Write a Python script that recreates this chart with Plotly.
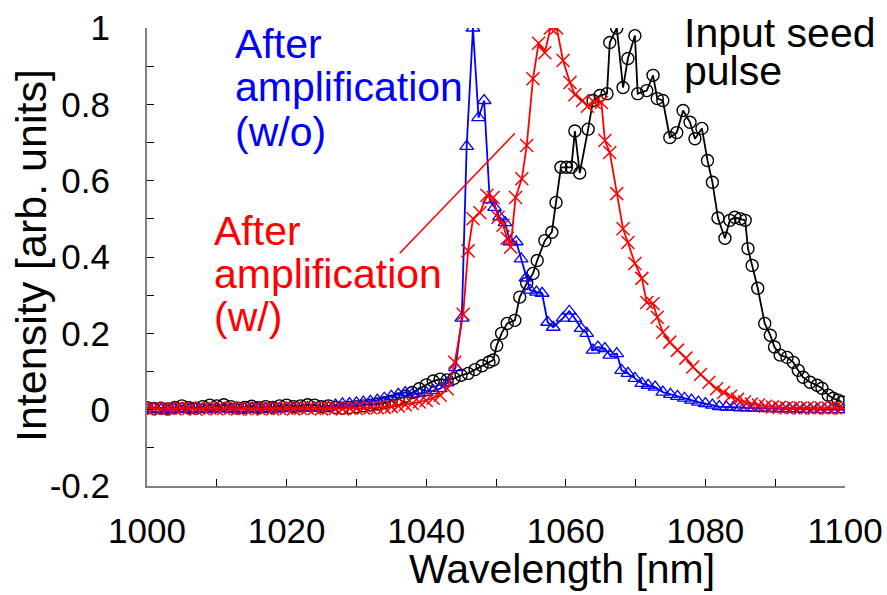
import plotly.graph_objects as go

# ---------------- data ----------------
seed_wl = [1000, 1001, 1002, 1003, 1004, 1005, 1006, 1007, 1008, 1009, 1010, 1011, 1012, 1013, 1014,
           1015, 1016, 1017, 1018, 1019, 1020, 1021, 1022, 1023, 1024, 1025, 1026, 1027, 1028, 1029,
           1030, 1031, 1032, 1033, 1034, 1035, 1036, 1037, 1038, 1039, 1040, 1041, 1042, 1043, 1044,
           1045, 1046, 1047, 1048, 1049, 1049.6, 1050.1, 1050.8, 1051.6, 1052.7, 1053.4, 1054.4,
           1055.3, 1055.9, 1057.0, 1058.0, 1058.6, 1059.3, 1060.1, 1060.8, 1061.3, 1062.0, 1063.2,
           1063.9, 1064.9, 1065.9, 1066.3, 1067.3, 1068.2, 1068.9, 1069.9, 1070.3, 1071.6, 1072.5,
           1073.1, 1073.9, 1074.9, 1075.9, 1076.8, 1077.8, 1078.5, 1079.5, 1080.3, 1081.0, 1081.8,
           1082.8, 1083.5, 1084.2, 1085.0, 1085.7, 1086.1, 1086.7, 1087.5, 1088.5, 1089.3, 1089.9,
           1090.7, 1091.7, 1092.6, 1093.3, 1094.0, 1095.0, 1096.0, 1096.7, 1097.6, 1098.3, 1099.0,
           1099.6]
seed_int = [0.005, 0.003, 0.004, 0.002, 0.006, 0.010, 0.005, 0.004, 0.008, 0.012, 0.010, 0.013, 0.008,
            0.004, 0.006, 0.009, 0.005, 0.008, 0.006, 0.010, 0.012, 0.008, 0.010, 0.013, 0.012, 0.008,
            0.010, 0.006, 0.004, 0.006, 0.008, 0.010, 0.012, 0.015, 0.018, 0.022, 0.028, 0.035, 0.045,
            0.055, 0.065, 0.075, 0.080, 0.078, 0.082, 0.090, 0.095, 0.105, 0.115, 0.125, 0.130, 0.168,
            0.200, 0.226, 0.234, 0.295, 0.331, 0.357, 0.391, 0.443, 0.465, 0.543, 0.635, 0.635, 0.635,
            0.730, 0.620, 0.735, 0.810, 0.823, 0.828, 0.962, 1.000, 0.844, 0.920, 0.980, 0.828, 0.836,
            0.876, 0.815, 0.810, 0.713, 0.726, 0.784, 0.753, 0.710, 0.737, 0.653, 0.596, 0.502, 0.449,
            0.496, 0.504, 0.500, 0.496, 0.422, 0.378, 0.318, 0.226, 0.195, 0.164, 0.143, 0.137, 0.124,
            0.103, 0.085, 0.072, 0.064, 0.056, 0.038, 0.030, 0.025, 0.020]

wo_wl = [1000, 1001, 1002, 1003, 1004, 1005, 1006, 1007, 1008, 1009, 1010, 1011, 1012, 1013, 1014,
         1015, 1016, 1017, 1018, 1019, 1020, 1021, 1022, 1023, 1024, 1025, 1026, 1027, 1028, 1029,
         1030, 1031, 1032, 1033, 1034, 1035, 1036, 1037, 1038, 1039, 1040, 1041, 1042, 1043, 1044.2,
         1045.1, 1045.8, 1046.7, 1047.5, 1048.3, 1049.1, 1049.8, 1050.5, 1051.3, 1052.0, 1052.9,
         1053.6, 1054.3, 1054.9, 1055.8, 1056.6, 1057.4, 1058.2, 1059.6, 1060.5, 1061.3, 1062.2,
         1063.0, 1063.9, 1064.6, 1065.6, 1066.3, 1067.3, 1068.0, 1068.9, 1069.9, 1070.9, 1071.8,
         1072.8, 1073.9, 1075, 1076, 1077, 1078, 1079, 1080, 1081, 1082, 1083, 1084, 1085, 1086,
         1087, 1088, 1089, 1090, 1091, 1092, 1093, 1094, 1095, 1096, 1097, 1098, 1099, 1100]
wo_int = [0.000, 0.002, 0.000, -0.002, 0.001, 0.003, 0.000, 0.002, 0.001, 0.000, 0.003, 0.002, 0.001,
          0.000, 0.002, 0.003, 0.001, 0.002, 0.003, 0.002, 0.004, 0.003, 0.004, 0.005, 0.004, 0.005,
          0.006, 0.012, 0.015, 0.016, 0.018, 0.020, 0.022, 0.025, 0.030, 0.035, 0.040, 0.045, 0.040,
          0.042, 0.045, 0.050, 0.055, 0.070, 0.110, 0.240, 0.690, 1.000, 0.765, 0.810, 0.550, 0.530,
          0.505, 0.490, 0.440, 0.440, 0.395, 0.345, 0.313, 0.308, 0.305, 0.229, 0.216, 0.240, 0.258,
          0.239, 0.213, 0.200, 0.156, 0.164, 0.160, 0.143, 0.147, 0.103, 0.095, 0.082, 0.069, 0.064,
          0.059, 0.046, 0.040, 0.035, 0.030, 0.025, 0.020, 0.016, 0.012, 0.008, 0.007, 0.006, 0.005,
          0.005, 0.004, 0.004, 0.003, 0.003, 0.002, 0.002, 0.002, 0.001, 0.001, 0.001, 0.000, 0.000,
          0.000, 0.000]

w_wl = [1000, 1001, 1002, 1003, 1004, 1005, 1006, 1007, 1008, 1009, 1010, 1011, 1012, 1013, 1014,
        1015, 1016, 1017, 1018, 1019, 1020, 1021, 1022, 1023, 1024, 1025, 1026, 1027, 1028, 1029,
        1030, 1031, 1032, 1033, 1034, 1035, 1036, 1037, 1038, 1039, 1040, 1041, 1042, 1043, 1044.1,
        1045.3, 1046.0, 1046.7, 1047.7, 1048.7, 1049.6, 1050.3, 1051.0, 1051.6, 1052.1, 1052.8,
        1053.7, 1054.4, 1055.3, 1056.1, 1057.0, 1057.8, 1058.7, 1059.6, 1060.6, 1061.3, 1062.4,
        1063.1, 1064.1, 1065.1, 1065.6, 1066.3, 1067.3, 1068.2, 1068.9, 1069.9, 1070.9, 1071.6,
        1072.5, 1073.1, 1073.9, 1074.9, 1076.0, 1077.2, 1078.2, 1079.3, 1080.5, 1081.6, 1082.6,
        1083.6, 1084.6, 1085.6, 1086.6, 1087.6, 1088.6, 1089.6, 1090.6, 1091.6, 1092.6, 1093.6,
        1094.6, 1095.6, 1096.6, 1097.6, 1098.6, 1099.6]
w_int = [0.002, 0.004, 0.001, 0.003, 0.002, 0.004, 0.003, 0.001, 0.003, 0.004, 0.002, 0.003, 0.004,
         0.002, 0.003, 0.001, 0.003, 0.004, 0.002, 0.003, 0.004, 0.002, 0.003, 0.004, 0.003, 0.002,
         0.004, 0.003, 0.002, 0.004, 0.003, 0.004, 0.005, 0.005, 0.006, 0.008, 0.010, 0.013, 0.016,
         0.020, 0.024, 0.030, 0.038, 0.055, 0.124, 0.250, 0.416, 0.500, 0.516, 0.562, 0.556, 0.504,
         0.483, 0.449, 0.426, 0.556, 0.605, 0.692, 0.867, 0.960, 0.935, 1.000, 1.000, 0.915, 0.857,
         0.825, 0.810, 0.795, 0.805, 0.805, 0.705, 0.674, 0.566, 0.474, 0.438, 0.383, 0.344, 0.281,
         0.278, 0.242, 0.203, 0.177, 0.156, 0.135, 0.112, 0.092, 0.072, 0.055, 0.045, 0.035, 0.027,
         0.020, 0.015, 0.012, 0.009, 0.007, 0.006, 0.005, 0.005, 0.004, 0.005, 0.004, 0.005, 0.004,
         0.005, 0.004]

x_ticks = [1000, 1020, 1040, 1060, 1080, 1100]
y_ticks = [-0.2, 0, 0.2, 0.4, 0.6, 0.8, 1]
y_tick_text = ["-0.2", "0", "0.2", "0.4", "0.6", "0.8", "1"]

# ---------------- figure ----------------
FONT = "Liberation Sans, Arial, sans-serif"
W, H = 887, 595
L, R, T, B = 147, 42, 28, 109
PW, PH = W - L - R, H - T - B


def px(xp):
    return (xp - L) / PW


def py(yp):
    return (H - B - yp) / PH


fig = go.Figure()
fig.add_trace(go.Scatter(x=seed_wl, y=seed_int, mode="lines+markers",
                         line=dict(color="black", width=1.8),
                         marker=dict(symbol="circle-open", size=12, color="black",
                                     line=dict(width=1.4, color="black"))))
fig.add_trace(go.Scatter(x=wo_wl, y=wo_int, mode="lines+markers",
                         line=dict(color="#0000FF", width=1.8),
                         marker=dict(symbol="triangle-up-open", size=12, color="#0000FF",
                                     line=dict(width=1.3, color="#0000FF"))))
fig.add_trace(go.Scatter(x=w_wl, y=w_int, mode="lines+markers",
                         line=dict(color="#FF0000", width=1.8),
                         marker=dict(symbol="x-thin-open", size=13, color="#FF0000",
                                     line=dict(width=1.5, color="#FF0000"))))

fig.add_shape(type="line", xref="x", yref="y", x0=1036.2, y0=0.41, x1=1052.7, y1=0.724,
              line=dict(color="#FF0000", width=1.5))

annos = [
    ("After", 233, 44, "#0000FF"), ("amplification", 233, 87, "#0000FF"), ("(w/o)", 233, 132, "#0000FF"),
    ("After", 212, 231, "#FF0000"), ("amplification", 212, 274, "#FF0000"), ("(w/)", 212, 317, "#FF0000"),
    ("Input seed", 682, 33, "black"), ("pulse", 682, 71, "black"),
]
for txt, x0, y0, col in annos:
    fig.add_annotation(text=txt, xref="paper", yref="paper", x=px(x0), y=py(y0),
                       xanchor="left", yanchor="middle", showarrow=False,
                       font=dict(family=FONT, size=41, color=col))

fig.add_annotation(text="Wavelength [nm]", xref="paper", yref="paper", x=px(562), y=py(569),
                   xanchor="center", yanchor="middle", showarrow=False,
                   font=dict(family=FONT, size=41, color="black"))
fig.add_annotation(text="Intensity [arb. units]", xref="paper", yref="paper", x=px(31), y=py(256),
                   xanchor="center", yanchor="middle", showarrow=False, textangle=-90,
                   font=dict(family=FONT, size=43, color="black"))

fig.update_layout(
    width=W, height=H, margin=dict(l=L, r=R, t=T, b=B, autoexpand=False),
    paper_bgcolor="white", plot_bgcolor="white", showlegend=False,
    font=dict(family=FONT, size=35, color="black"),
)
fig.update_xaxes(range=[1000, 1100], tickvals=x_ticks, ticks="inside", ticklen=7, tickwidth=1,
                 tickcolor="black", showline=True, linecolor="#808080", linewidth=2,
                 showgrid=False, zeroline=False, ticklabelstandoff=13, automargin=False,
                 minor=dict(dtick=10, ticks="inside", ticklen=7, tickcolor="black", showgrid=False),
                 tickfont=dict(family=FONT, size=35, color="black"))
fig.update_yaxes(range=[-0.2, 1], tickvals=y_ticks, ticktext=y_tick_text, ticks="inside", ticklen=7,
                 tickwidth=1, tickcolor="black", showline=True, linecolor="#808080", linewidth=2,
                 showgrid=False, zeroline=False, ticklabelstandoff=28, automargin=False,
                 minor=dict(dtick=0.1, ticks="inside", ticklen=7, tickcolor="black", showgrid=False),
                 tickfont=dict(family=FONT, size=35, color="black"))

fig.write_html("out.html")
